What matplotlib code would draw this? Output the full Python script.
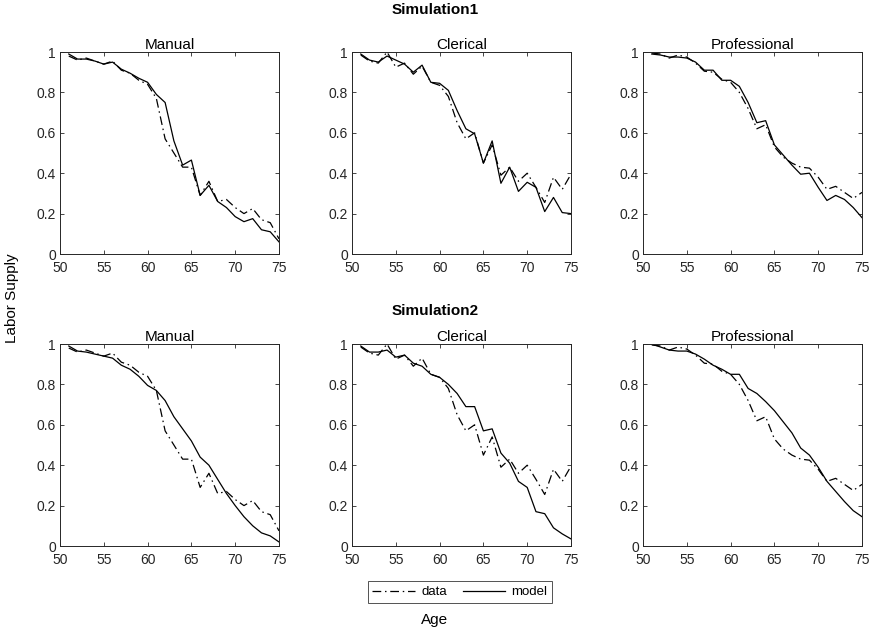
import matplotlib
matplotlib.use("Agg")
import matplotlib.pyplot as plt
from matplotlib.ticker import FuncFormatter

plt.rcParams['font.family'] = ['Liberation Sans', 'DejaVu Sans']

ages = list(range(51, 76))
occupations = ["Manual", "Clerical", "Professional"]
simulations = ["Simulation1", "Simulation2"]

data_manual = [0.98, 0.96, 0.97, 0.955, 0.94, 0.955, 0.91, 0.895, 0.86, 0.84, 0.77, 0.57, 0.50,
               0.43, 0.43, 0.29, 0.36, 0.26, 0.27, 0.23, 0.20, 0.225, 0.17, 0.155, 0.075]
data_clerical = [0.985, 0.955, 0.945, 1.0, 0.925, 0.945, 0.89, 0.93, 0.85, 0.835, 0.78, 0.65, 0.57,
                 0.60, 0.45, 0.54, 0.39, 0.43, 0.36, 0.40, 0.33, 0.255, 0.38, 0.32, 0.395]
data_professional = [0.995, 0.99, 0.97, 0.985, 0.975, 0.945, 0.905, 0.90, 0.865, 0.85, 0.80, 0.72, 0.62,
                     0.64, 0.53, 0.48, 0.45, 0.43, 0.425, 0.38, 0.32, 0.335, 0.305, 0.275, 0.305]

sim1_manual = [0.99, 0.965, 0.965, 0.955, 0.94, 0.95, 0.915, 0.895, 0.87, 0.85, 0.79, 0.75, 0.56,
               0.44, 0.465, 0.29, 0.34, 0.26, 0.23, 0.185, 0.16, 0.175, 0.12, 0.11, 0.06]
sim1_clerical = [0.99, 0.96, 0.95, 0.98, 0.96, 0.94, 0.90, 0.935, 0.85, 0.845, 0.81, 0.71, 0.62,
                 0.595, 0.45, 0.56, 0.35, 0.43, 0.31, 0.355, 0.33, 0.21, 0.28, 0.205, 0.20]
sim1_professional = [0.99, 0.985, 0.975, 0.975, 0.97, 0.95, 0.91, 0.91, 0.86, 0.86, 0.83, 0.75, 0.65,
                     0.66, 0.54, 0.49, 0.44, 0.395, 0.40, 0.33, 0.265, 0.29, 0.27, 0.23, 0.18]

sim2_manual = [0.99, 0.965, 0.96, 0.95, 0.94, 0.93, 0.895, 0.875, 0.84, 0.795, 0.77, 0.72, 0.64,
               0.58, 0.52, 0.44, 0.40, 0.33, 0.26, 0.20, 0.145, 0.10, 0.065, 0.05, 0.02]
sim2_clerical = [0.99, 0.96, 0.96, 0.97, 0.935, 0.945, 0.905, 0.89, 0.85, 0.835, 0.80, 0.755, 0.69,
                 0.69, 0.57, 0.58, 0.46, 0.41, 0.32, 0.29, 0.17, 0.16, 0.09, 0.06, 0.035]
sim2_professional = [1.0, 0.985, 0.97, 0.965, 0.965, 0.95, 0.925, 0.895, 0.875, 0.85, 0.85, 0.78, 0.755,
                     0.715, 0.67, 0.615, 0.56, 0.485, 0.45, 0.39, 0.32, 0.27, 0.22, 0.175, 0.145]

data_series = [data_manual, data_clerical, data_professional]
model_series = [[sim1_manual, sim1_clerical, sim1_professional],
                [sim2_manual, sim2_clerical, sim2_professional]]

xticks = [50, 55, 60, 65, 70, 75]
yticks = [0, 0.2, 0.4, 0.6, 0.8, 1]

W, H = 870, 631
fig = plt.figure(figsize=(W / 100, H / 100), dpi=100)

lefts = [60, 352, 643]
tops = [52, 344]
aw, ah = 219, 202
axcol = (0.15, 0.15, 0.15)

fmt = FuncFormatter(lambda v, p: ("%g" % v))
handles = None
for r in range(2):
    for c in range(3):
        ax = fig.add_axes([lefts[c] / W, 1 - (tops[r] + ah) / H, aw / W, ah / H])
        l1, = ax.plot(ages, data_series[c], color='black', lw=0.9, linestyle=(0, (7, 3, 1.2, 3)), label='data')
        l2, = ax.plot(ages, model_series[r][c], color='black', lw=0.9, linestyle='-', label='model')
        handles = [l1, l2]
        ax.set_xlim(50, 75)
        ax.set_ylim(0, 1)
        ax.set_xticks(xticks)
        ax.set_yticks(yticks)
        ax.yaxis.set_major_formatter(fmt)
        ax.tick_params(direction='in', top=True, right=True, length=3, width=0.6,
                       labelsize=10, colors=axcol, labelcolor=axcol)
        ax.tick_params(axis='x', pad=5)
        ax.tick_params(axis='y', pad=3)
        for s in ax.spines.values():
            s.set_linewidth(0.7)
            s.set_color(axcol)
        ax.set_title(occupations[c], fontsize=11, pad=2, color='black')

fig.text(435 / W, 1 - 10 / H, simulations[0], ha='center', va='center', fontsize=11, fontweight='bold')
fig.text(435 / W, 1 - 311 / H, simulations[1], ha='center', va='center', fontsize=11, fontweight='bold')
fig.text(12 / W, 1 - 298 / H, "Labor Supply", rotation=90, ha='center', va='center', fontsize=11)
fig.text(435 / W, 1 - 620 / H, "Age", ha='center', va='center', fontsize=11)

leg = fig.legend(handles, ['data', 'model'], loc='center', bbox_to_anchor=(460 / W, 1 - 592 / H),
                 ncol=2, frameon=True, fancybox=False, fontsize=9.5, handlelength=3.2,
                 handletextpad=0.5, columnspacing=1.2, borderpad=0.35, borderaxespad=0)
leg.get_frame().set_edgecolor(axcol)
leg.get_frame().set_linewidth(0.7)

fig.savefig("out.png", dpi=100)
